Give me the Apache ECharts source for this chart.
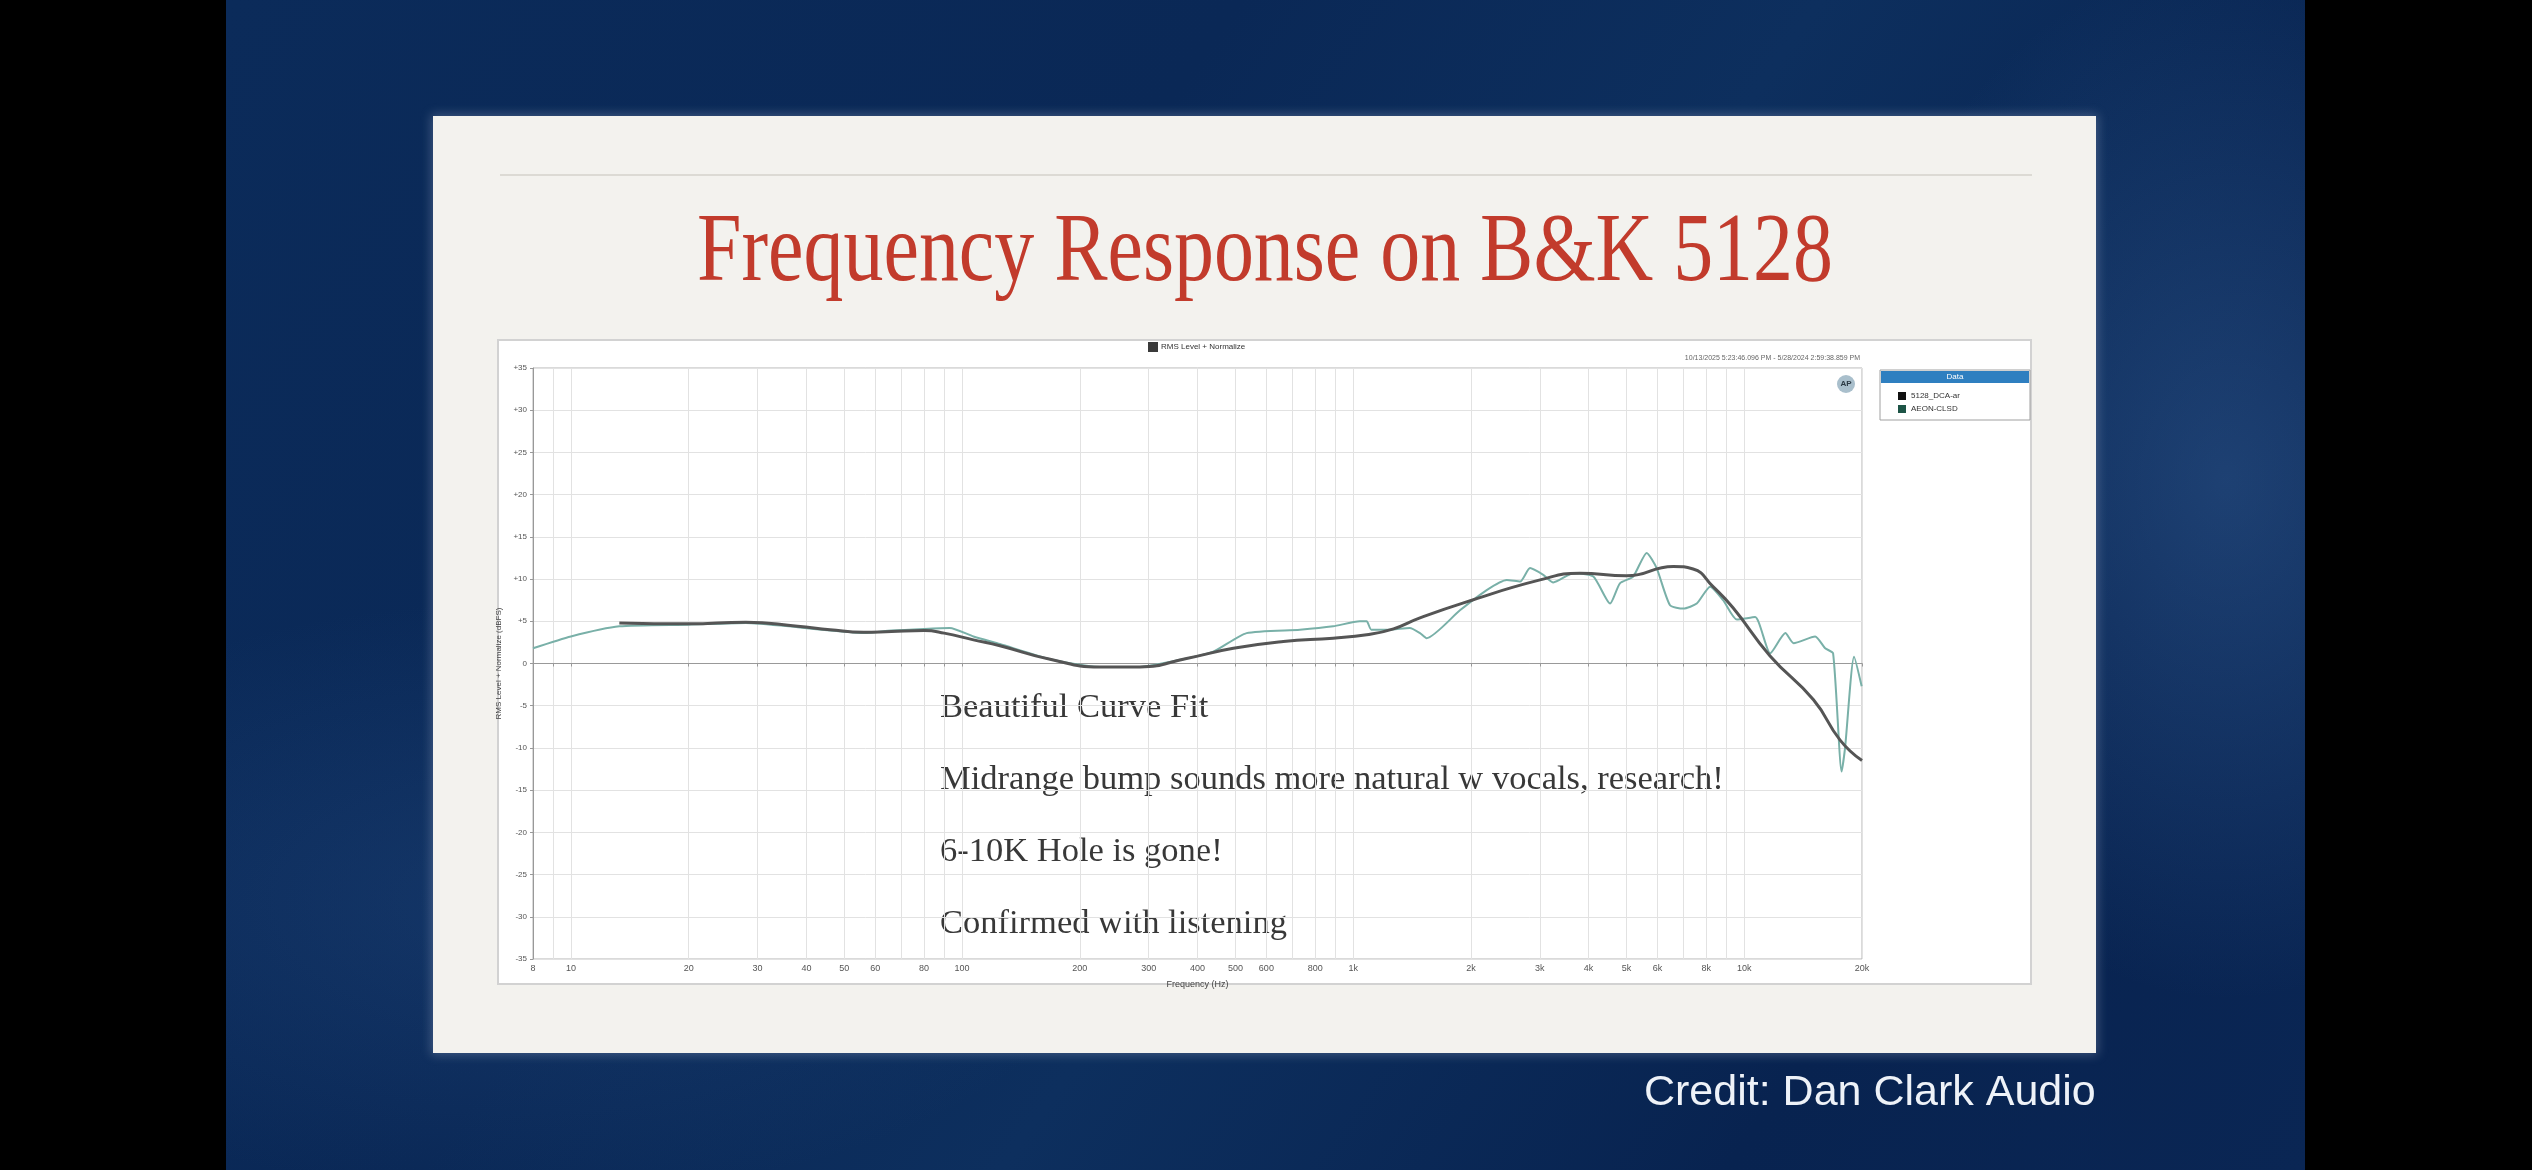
<!DOCTYPE html>
<html>
<head>
<meta charset="utf-8">
<script src="https://cdn.jsdelivr.net/npm/echarts@6/dist/echarts.min.js"></script>
<style>
  html, body { margin: 0; padding: 0; width: 2532px; height: 1170px; overflow: hidden; background: #000; }
  #bg { position: absolute; left: 226px; top: 0; width: 2079px; height: 1170px;
        background:
          radial-gradient(ellipse 380px 520px at 2000px 480px, rgba(70, 120, 180, 0.35), rgba(70, 120, 180, 0) 100%),
          radial-gradient(ellipse 600px 300px at 300px 900px, rgba(50, 95, 155, 0.25), rgba(50, 95, 155, 0) 100%),
          linear-gradient(125deg, #0b2b5a 0%, #0a2856 35%, #0d2f5e 55%, #082350 80%, #0a2654 100%); }
  #card { position: absolute; left: 433px; top: 116px; width: 1663px; height: 937px; background: #f3f2ee;
          box-shadow: 0 0 10px 2px rgba(210, 220, 235, 0.25); }
  #rule { position: absolute; left: 500px; top: 174px; width: 1532px; height: 2px; background: #dcdad4; }
  #panel { position: absolute; left: 497px; top: 339px; width: 1535px; height: 646px; background: #fff;
           border: 2px solid #d2d2d2; box-sizing: border-box; }
  #chart { position: absolute; left: 0; top: 0; width: 2532px; height: 1170px; }
</style>
</head>
<body>
<div id="bg"></div>
<div id="card"></div>
<div id="rule"></div>
<div id="panel"></div>
<div id="chart"></div>
<script>
// fitted target curve (Hz / dB)
var fitFreq = [13.3, 20, 28, 38, 46, 56, 66, 80, 90, 107, 125, 168, 225, 285, 375, 494, 663, 889, 1083, 1268, 1482, 1950, 3006, 3800, 5000, 6590, 7400, 8320, 9360, 11640, 15030, 17600, 20000]
var fitDb = [4.8, 4.7, 4.9, 4.4, 4.0, 3.7, 3.8, 3.9, 3.6, 2.8, 2.1, 0.5, -0.4, -0.4, 0.6, 1.8, 2.6, 3.0, 3.4, 4.1, 5.4, 7.3, 9.9, 10.7, 10.4, 11.5, 11.2, 9.1, 6.6, 0.9, -4.3, -9.1, -11.5]

// measured response
var measFreq = [8, 10, 13.3, 20, 28, 38, 46, 56, 66, 80, 93, 107, 125, 168, 225, 285, 375, 439, 534, 731, 889, 1040, 1083, 1113, 1230, 1396, 1482, 1541, 1875, 2195, 2470, 2673, 2833, 3063, 3250, 3656, 4113, 4538, 4810, 5200, 5630, 5970, 6460, 6990, 7560, 8180, 8830, 9570, 10660, 11650, 12740, 13370, 15180, 16100, 16870, 17740, 18110, 19090, 19960]
var measDb = [1.8, 3.2, 4.4, 4.6, 4.8, 4.3, 3.9, 3.6, 3.9, 4.1, 4.2, 3.2, 2.3, 0.5, -0.4, -0.4, 0.6, 1.4, 3.6, 4.0, 4.4, 5.0, 5.0, 4.0, 4.0, 4.2, 3.6, 3.0, 6.3, 8.7, 9.9, 9.7, 11.3, 10.5, 9.6, 10.7, 10.3, 7.1, 9.5, 10.3, 13.1, 11.3, 6.9, 6.5, 7.1, 9.1, 7.5, 5.2, 5.5, 1.2, 3.6, 2.4, 3.2, 1.8, 1.2, -12.8, -9.9, 0.8, -2.7]

// axis ticks
var gridFreqs = [8, 9, 10, 20, 30, 40, 50, 60, 70, 80, 90, 100, 200, 300, 400, 500, 600, 700, 800, 900,
  1000, 2000, 3000, 4000, 5000, 6000, 7000, 8000, 9000, 10000, 20000]
var labelFreqs = [8, 10, 20, 30, 40, 50, 60, 80, 100, 200, 300, 400, 500, 600, 800, 1000,
  2000, 3000, 4000, 5000, 6000, 8000, 10000, 20000]

var seriesNames = ['5128_DCA-ar', 'AEON-CLSD']
var notes = ['Beautiful Curve Fit', 'Midrange bump sounds more natural w vocals, research!', '6-10K Hole is gone!', 'Confirmed with listening']

function zip(a, b) {
  return a.map(function(v, i) { return [v, b[i]] })
}

var chart = echarts.init(document.getElementById('chart'))

var noteTexts = notes.map(function(t, i) {
  return {
    type: 'text', x: 940, y: 708 + i * 72,
    style: { text: t, fontFamily: 'Liberation Serif', fontSize: 34.5, fill: '#383838', verticalAlign: 'middle' }
  }
})

chart.setOption({
  animation: false,
  backgroundColor: 'transparent',
  grid: {
    left: 533, top: 368, width: 1329, height: 591,
    show: true, borderColor: '#b5b5b5', borderWidth: 1
  },
  legend: {
    orient: 'vertical', left: 1893, top: 387,
    itemWidth: 8, itemHeight: 8, itemGap: 5, icon: 'rect',
    textStyle: { fontSize: 8, color: '#333', fontFamily: 'Liberation Sans' },
    data: [
      { name: seriesNames[0], itemStyle: { color: '#111' } },
      { name: seriesNames[1], itemStyle: { color: '#1d5446' } }
    ]
  },
  xAxis: {
    type: 'log', logBase: 10, min: 8, max: 20000,
    name: 'Frequency (Hz)', nameLocation: 'middle', nameGap: 21,
    nameTextStyle: { fontSize: 9, color: '#444', fontFamily: 'Liberation Sans' },
    axisLine: { show: true, lineStyle: { color: '#999' } },
    axisTick: { show: true, length: 3, customValues: gridFreqs, lineStyle: { color: '#999' } },
    axisLabel: {
      customValues: labelFreqs, fontSize: 9, color: '#555', margin: 5, fontFamily: 'Liberation Sans',
      formatter: function(v) { return v >= 1000 ? (v / 1000) + 'k' : String(v) }
    },
    splitLine: { show: true, lineStyle: { color: '#e2e2e2', width: 1 } }
  },
  yAxis: {
    type: 'value', min: -35, max: 35, interval: 5,
    name: 'RMS Level + Normalize (dBFS)', nameLocation: 'middle', nameGap: 24, nameRotate: 90,
    nameTextStyle: { fontSize: 8, color: '#444', fontFamily: 'Liberation Sans' },
    axisLine: { show: true, lineStyle: { color: '#999' } },
    axisTick: { show: true, length: 3, lineStyle: { color: '#999' } },
    axisLabel: {
      fontSize: 8, color: '#555', margin: 6, fontFamily: 'Liberation Sans',
      formatter: function(v) { return v > 0 ? '+' + v : String(v) }
    },
    splitLine: { show: true, lineStyle: { color: '#e2e2e2', width: 1 } }
  },
  series: [
    {
      name: seriesNames[1], type: 'line', data: zip(measFreq, measDb),
      showSymbol: false, smooth: 0.2, z: 2,
      lineStyle: { color: '#79b0a8', width: 2 }
    },
    {
      name: seriesNames[0], type: 'line', data: zip(fitFreq, fitDb),
      showSymbol: false, smooth: 0.5, z: 3,
      lineStyle: { color: '#555', width: 3 }
    }
  ],
  graphic: [
    {
      type: 'text', x: 1265, y: 254, scaleX: 0.815,
      style: { text: 'Frequency Response on B&K 5128', fontFamily: 'Liberation Serif', fontSize: 98,
        fill: '#c23b2c', align: 'center', verticalAlign: 'middle' }
    },
    { type: 'rect', shape: { x: 1148, y: 342, width: 10, height: 10 }, style: { fill: '#3a3a3a' } },
    {
      type: 'text', x: 1161, y: 347,
      style: { text: 'RMS Level + Normalize', fontSize: 8, fill: '#333', fontFamily: 'Liberation Sans', verticalAlign: 'middle' }
    },
    {
      type: 'text', x: 1860, y: 358,
      style: { text: '10/13/2025 5:23:46.096 PM - 5/28/2024 2:59:38.859 PM', fontSize: 7, fill: '#666',
        fontFamily: 'Liberation Sans', align: 'right', verticalAlign: 'middle' }
    },
    { type: 'circle', shape: { cx: 1846, cy: 384, r: 9 }, style: { fill: '#a9bfcc' } },
    {
      type: 'text', x: 1846, y: 384,
      style: { text: 'AP', fontSize: 8, fontWeight: 'bold', fill: '#2b3a44', align: 'center', verticalAlign: 'middle' }
    },
    { type: 'rect', shape: { x: 1880, y: 370, width: 150, height: 50 }, style: { fill: '#fff', stroke: '#a0a0a0', lineWidth: 1 }, z: -1 },
    { type: 'rect', shape: { x: 1881, y: 371, width: 148, height: 12 }, style: { fill: '#2f7fc0' } },
    {
      type: 'text', x: 1955, y: 377,
      style: { text: 'Data', fontSize: 8, fill: '#fff', align: 'center', verticalAlign: 'middle', fontFamily: 'Liberation Sans' }
    },
    {
      type: 'text', x: 1644, y: 1093,
      style: { text: 'Credit: Dan Clark Audio', fontFamily: 'Liberation Sans', fontSize: 43, fill: '#eef2f8', verticalAlign: 'middle' }
    }
  ].concat(noteTexts)
})
</script>
</body>
</html>
